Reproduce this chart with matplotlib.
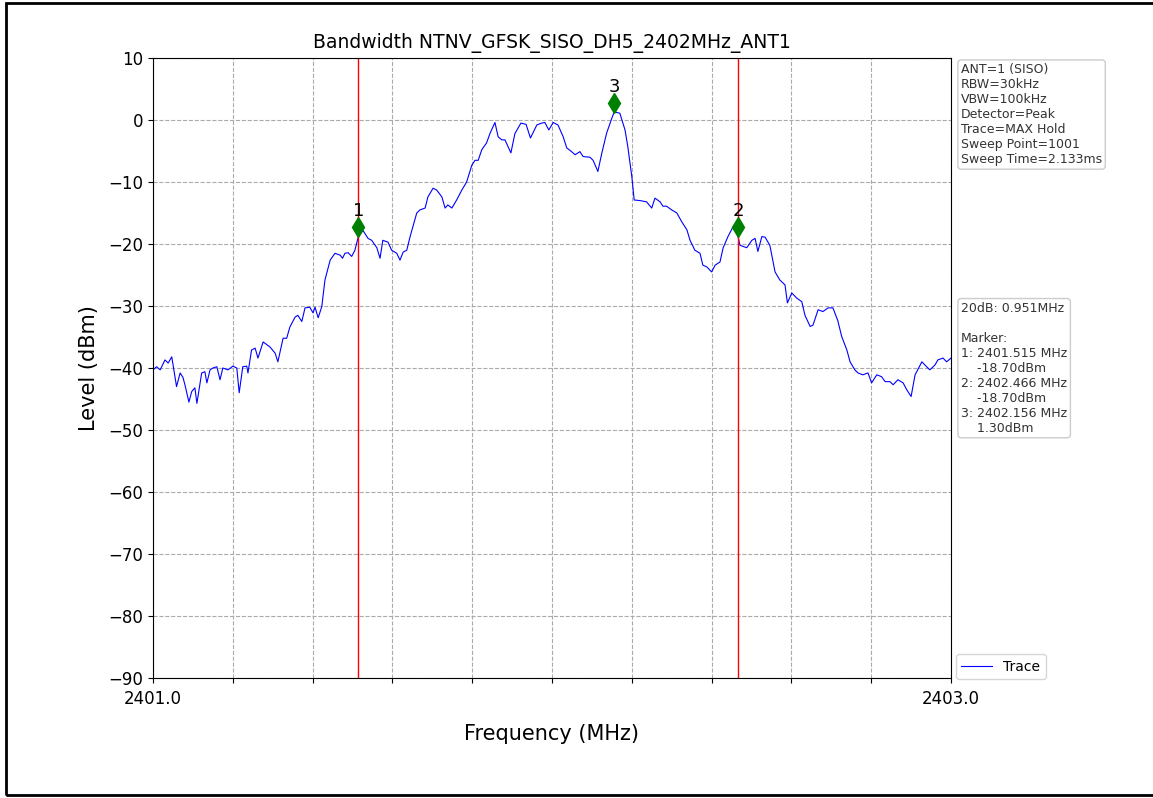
import numpy as np
import matplotlib
matplotlib.use("Agg")
import matplotlib.pyplot as plt
from matplotlib.patches import Rectangle

# trace (offset from 2401 MHz, level in dBm)
freq_offset = [
    0.000, 0.009, 0.018, 0.030, 0.038, 0.047, 0.059, 0.068, 0.075, 0.080,
    0.090, 0.097, 0.105, 0.110, 0.122, 0.130, 0.135, 0.143, 0.150, 0.160,
    0.168, 0.175, 0.188, 0.200, 0.210, 0.216, 0.225, 0.235, 0.238, 0.247,
    0.256, 0.263, 0.276, 0.293, 0.306, 0.313, 0.326, 0.335, 0.343, 0.356,
    0.363, 0.373, 0.381, 0.393, 0.401, 0.406, 0.414, 0.423, 0.431, 0.444,
    0.456, 0.469, 0.475, 0.481, 0.489, 0.498, 0.506, 0.515, 0.526, 0.539,
    0.548, 0.561, 0.569, 0.576, 0.589, 0.598, 0.611, 0.619, 0.627, 0.636,
    0.644, 0.661, 0.669, 0.682, 0.689, 0.702, 0.711, 0.724, 0.732, 0.739,
    0.749, 0.761, 0.774, 0.786, 0.799, 0.807, 0.815, 0.824, 0.836, 0.845,
    0.857, 0.865, 0.874, 0.882, 0.897, 0.907, 0.922, 0.935, 0.946, 0.962,
    0.974, 0.982, 0.992, 1.003, 1.015, 1.028, 1.037, 1.049, 1.058, 1.070,
    1.078, 1.095, 1.103, 1.115, 1.125, 1.137, 1.150, 1.156, 1.170, 1.183,
    1.190, 1.200, 1.206, 1.221, 1.237, 1.250, 1.258, 1.271, 1.278, 1.287,
    1.300, 1.313, 1.325, 1.338, 1.346, 1.358, 1.371, 1.378, 1.388, 1.400,
    1.409, 1.421, 1.429, 1.441, 1.454, 1.466, 1.471, 1.488, 1.501, 1.509,
    1.516, 1.526, 1.534, 1.546, 1.559, 1.571, 1.584, 1.590, 1.601, 1.613,
    1.626, 1.634, 1.647, 1.654, 1.667, 1.679, 1.692, 1.704, 1.716, 1.726,
    1.739, 1.747, 1.759, 1.767, 1.779, 1.792, 1.801, 1.814, 1.826, 1.835,
    1.847, 1.855, 1.867, 1.880, 1.889, 1.900, 1.910, 1.927, 1.939, 1.947,
    1.960, 1.967, 1.980, 1.989, 2.000,
]
level = [
    -40.3, -39.8, -40.3, -38.7, -39.2, -38.2, -43.0, -40.8, -41.5, -42.7,
    -45.5, -43.8, -43.2, -45.7, -40.8, -40.6, -42.4, -40.3, -40.0, -39.8,
    -41.9, -40.0, -40.3, -39.7, -40.0, -44.0, -39.8, -39.7, -40.8, -37.1,
    -36.8, -38.4, -35.8, -36.6, -37.6, -39.0, -35.2, -35.2, -33.4, -31.8,
    -31.5, -32.5, -30.3, -30.2, -31.1, -30.2, -31.9, -30.1, -25.8, -22.6,
    -21.5, -21.8, -22.3, -21.5, -21.4, -22.0, -21.0, -18.7, -17.8, -19.1,
    -19.4, -20.6, -22.3, -19.4, -19.7, -21.0, -21.5, -22.6, -21.3, -21.0,
    -18.9, -15.0, -14.5, -14.2, -12.4, -11.0, -11.3, -12.4, -14.2, -13.7,
    -14.2, -12.9, -11.3, -10.0, -7.3, -6.5, -6.5, -4.8, -3.7, -2.1,
    -0.4, -2.7, -3.2, -3.2, -5.3, -2.2, -0.5, -0.7, -2.9, -0.8,
    -0.5, -0.4, -1.6, -0.4, -0.8, -2.7, -4.5, -5.1, -5.6, -5.1,
    -5.9, -6.0, -6.5, -8.3, -5.3, -2.1, 0.3, 1.3, 1.1, -1.6,
    -4.3, -9.1, -12.9, -13.0, -13.2, -14.2, -12.6, -13.2, -13.9, -13.9,
    -14.5, -15.0, -16.4, -17.7, -19.4, -21.0, -21.5, -23.4, -23.7, -24.5,
    -23.4, -22.9, -20.6, -18.8, -17.2, -18.7, -20.2, -20.6, -19.4, -19.1,
    -21.2, -18.8, -18.9, -20.2, -24.5, -25.8, -26.6, -29.5, -27.9, -28.7,
    -29.3, -31.5, -33.3, -33.1, -30.6, -30.9, -30.3, -30.3, -32.3, -34.9,
    -37.1, -39.0, -40.3, -40.8, -41.1, -40.8, -42.4, -41.1, -41.4, -42.2,
    -42.2, -42.7, -41.9, -42.4, -43.5, -44.6, -41.1, -39.0, -39.8, -40.3,
    -39.5, -38.7, -38.4, -39.0, -38.4,
]

marker_freq = [2401.515, 2402.466, 2402.156]
marker_level = [-18.70, -18.70, 1.30]
marker_names = ["1", "2", "3"]
edge_freq = [2401.515, 2402.466]

info_text = ("ANT=1 (SISO)\nRBW=30kHz\nVBW=100kHz\nDetector=Peak\n"
             "Trace=MAX Hold\nSweep Point=1001\nSweep Time=2.133ms")
result_text = ("20dB: 0.951MHz\n\nMarker:\n1: 2401.515 MHz\n    -18.70dBm\n"
               "2: 2402.466 MHz\n    -18.70dBm\n3: 2402.156 MHz\n    1.30dBm")

freq = 2401.0 + np.array(freq_offset)

fig = plt.figure(figsize=(11.53, 7.98), dpi=100)
ax = fig.add_axes([0.1327, 0.1504, 0.6921, 0.7769])

ax.plot(freq, level, color="blue", linewidth=0.8, label="Trace")
for f in edge_freq:
    ax.axvline(f, color="red", linewidth=1.0)

for f, l, n in zip(marker_freq, marker_level, marker_names):
    ax.plot(f, l + 1.5, marker="d", color="green", markersize=10)
    ax.annotate(n, (f, l + 1.5), xytext=(0, 5), textcoords="offset points",
                ha="center", va="bottom", fontsize=13)

ax.set_xlim(2401.0, 2403.0)
ax.set_ylim(-90, 10)
xt = np.linspace(2401.0, 2403.0, 11)
ax.set_xticks(xt)
ax.set_xticklabels(["2401.0"] + [""] * 9 + ["2403.0"])
ax.set_yticks(np.arange(-90, 11, 10))
ax.tick_params(labelsize=12)
ax.tick_params(axis="x", pad=5)
ax.grid(True, linestyle="--", color="#aaaaaa", linewidth=0.8)
ax.set_xlabel("Frequency (MHz)", fontsize=15, labelpad=12)
ax.set_ylabel("Level (dBm)", fontsize=15, labelpad=7)
ax.set_title("Bandwidth NTNV_GFSK_SISO_DH5_2402MHz_ANT1", fontsize=13.5, pad=7)

box = dict(boxstyle="round,pad=0.25", facecolor="white", edgecolor="#cccccc")
fig.text(0.8335, 0.921, info_text, fontsize=9, va="top", ha="left",
         color="#333333", bbox=box, linespacing=1.2)
fig.text(0.8335, 0.622, result_text, fontsize=9, va="top", ha="left",
         color="#333333", bbox=box, linespacing=1.2)

ax.legend(loc="lower left", bbox_to_anchor=(1.006, -0.002), fontsize=10,
          borderaxespad=0.0, handlelength=2.2)

# black frame around the picture (right side runs off the edge)
fig.patches.append(Rectangle((0.0055, 0.004), 1.1, 0.992, transform=fig.transFigure,
                             fill=False, edgecolor="black", linewidth=2))

fig.savefig("out.png", dpi=100)
